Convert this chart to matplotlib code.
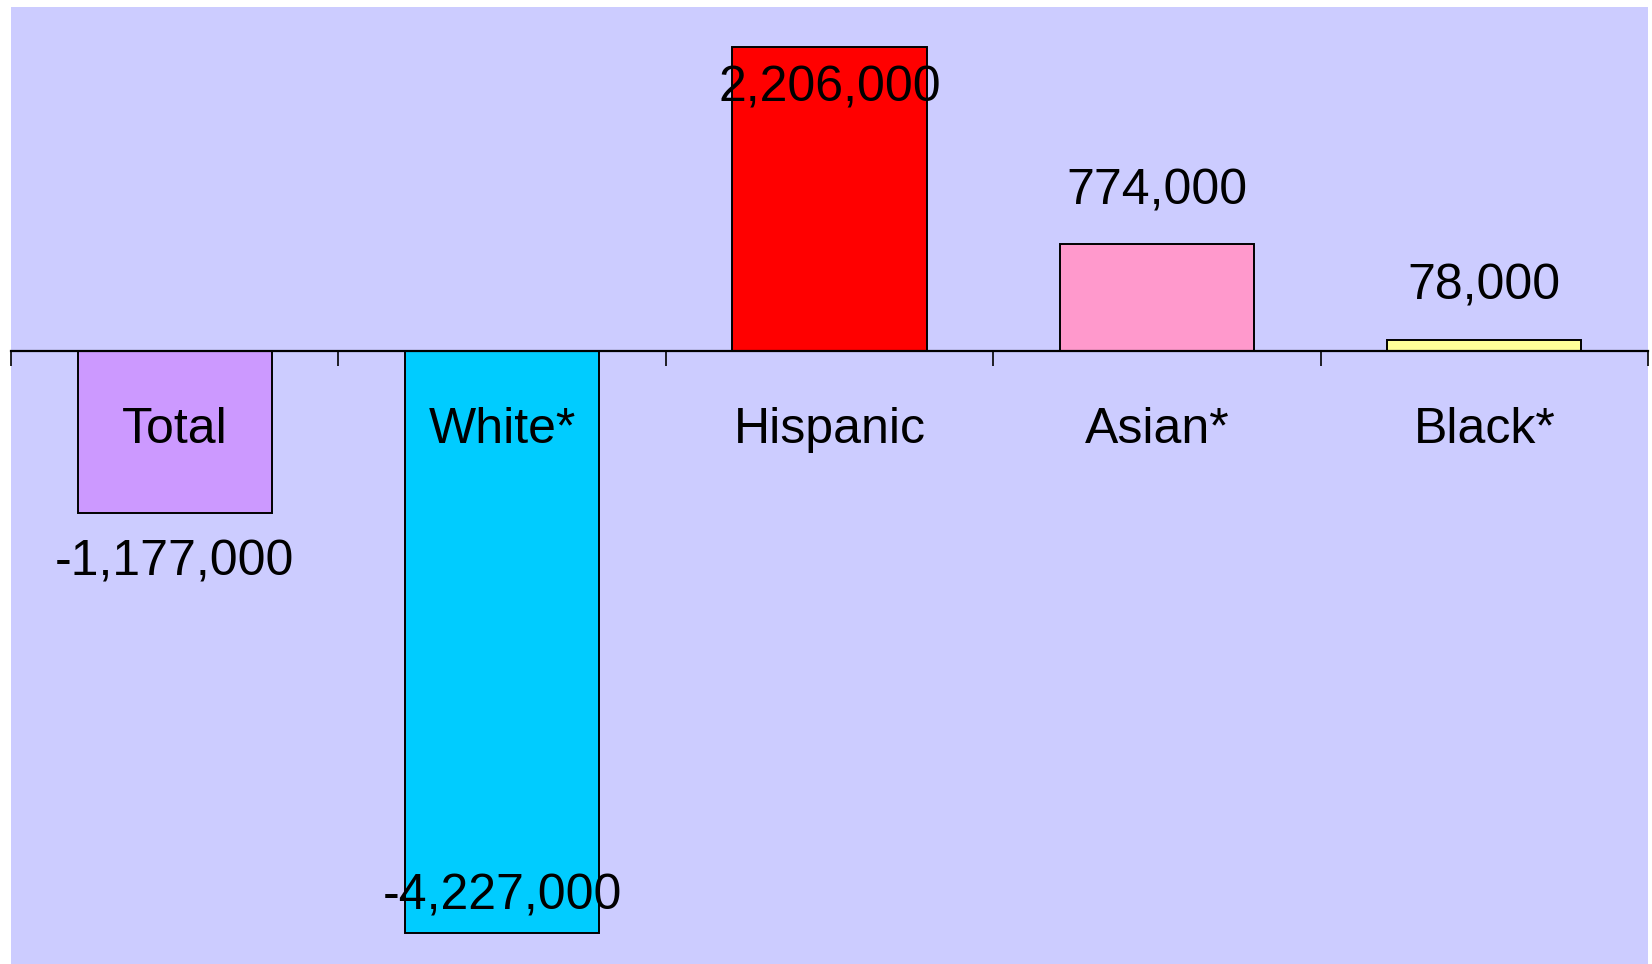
import matplotlib
matplotlib.use("Agg")
import matplotlib.pyplot as plt

# population change by group
groups = ["Total", "White*", "Hispanic", "Asian*", "Black*"]
change = [-1177000, -4227000, 2206000, 774000, 78000]
colors = ["#CC99FF", "#00CCFF", "#FF0000", "#FF99CC", "#FFFF99"]

plt.rcParams['font.family'] = ['Liberation Sans', 'DejaVu Sans']

fig = plt.figure(figsize=(16.52, 9.64), dpi=100)
ax = fig.add_axes([11 / 1652, 0, 1637 / 1652, 1 - 7 / 964])
ax.set_facecolor("#CCCCFF")

x = list(range(len(groups)))
ax.bar(x, change, width=0.593, color=colors, edgecolor="black", linewidth=1.4, zorder=2)

ax.set_xlim(-0.5, len(groups) - 0.5)
ax.set_ylim(-4.455e6, 2.5e6)

for s in ["left", "right", "top"]:
    ax.spines[s].set_visible(False)
ax.spines["bottom"].set_position(("data", 0))
ax.spines["bottom"].set_linewidth(1.6)
ax.spines["bottom"].set_zorder(3)
ax.set_xticks([i - 0.5 for i in range(len(groups) + 1)])
ax.set_xticklabels([])
ax.tick_params(axis="x", direction="out", length=11, width=1.2)
ax.set_yticks([])

fs = 36
# category names under the axis line
for i, g in enumerate(groups):
    ax.annotate(g, xy=(i, 0), xytext=(0, -66), textcoords="offset points",
                ha="center", va="baseline", fontsize=fs, color="black")

# value labels, outside end unless there is no room
ymin, ymax = ax.get_ylim()
for i, v in enumerate(change):
    txt = f"{v:,}"
    if v >= 0:
        if v + 0.45e6 < ymax:
            off = 29
        else:
            off = -39
    else:
        if v - 0.6e6 > ymin:
            off = -45
        else:
            off = 17
    ax.annotate(txt, xy=(i, v), xytext=(0, off), textcoords="offset points",
                ha="center", va="baseline", fontsize=fs, color="black", zorder=4)

fig.savefig("out.png", dpi=100, facecolor="white")
